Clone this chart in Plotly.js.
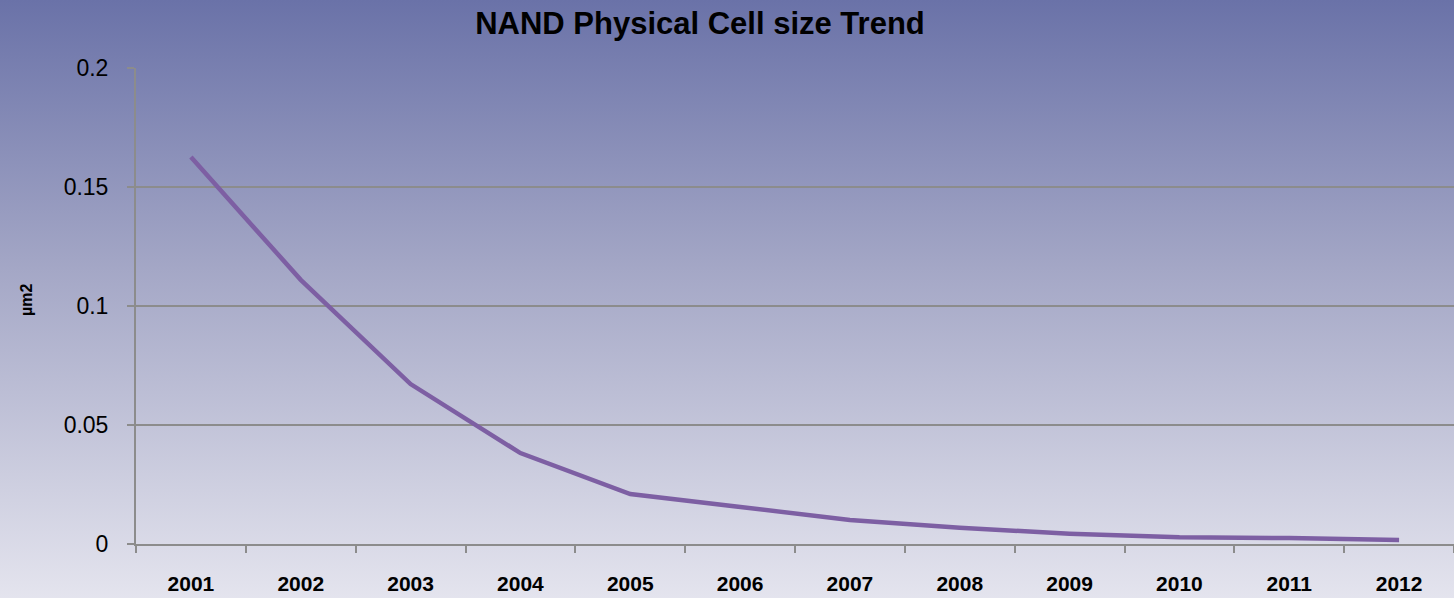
<!DOCTYPE html>
<html>
<head>
<meta charset="utf-8">
<script src="https://cdn.plot.ly/plotly-3.0.1.min.js"></script>
<style>
  html, body { margin: 0; padding: 0; }
  #chart {
    width: 1454px; height: 598px;
    background: linear-gradient(to bottom, #6a72a8 0%, #a4a7c6 45%, #e4e4ee 100%);
  }
</style>
</head>
<body>
<div id="chart"></div>
<script>
const years = ["2001","2002","2003","2004","2005","2006","2007","2008","2009","2010","2011","2012"];
const cellSize = [0.1626, 0.111, 0.0672, 0.0382, 0.021, 0.0155, 0.0101, 0.0068, 0.0043, 0.0028, 0.0025, 0.0017];
const yTicks = [0, 0.05, 0.1, 0.15, 0.2];
const yTickText = ["0", "0.05", "0.1", "0.15", "0.2"];

const trace = {
  x: years,
  y: cellSize,
  type: "scatter",
  mode: "lines",
  line: { color: "#7d5fa3", width: 4.5 },
  hoverinfo: "x+y"
};

const layout = {
  width: 1454, height: 598,
  paper_bgcolor: "rgba(0,0,0,0)",
  plot_bgcolor: "rgba(0,0,0,0)",
  margin: { l: 136, r: 0, t: 68, b: 54 },
  showlegend: false,
  title: {
    text: "<b>NAND Physical Cell size Trend</b>",
    font: { family: "Liberation Sans, Arial, sans-serif", size: 31, color: "#000" },
    xref: "container", x: 0.4814, xanchor: "center",
    yref: "container", y: 1 - 23/598, yanchor: "middle"
  },
  xaxis: {
    type: "category",
    range: [-0.5, 11.5],
    showgrid: false,
    zeroline: false,
    showline: true, linecolor: "#8c8c8c", linewidth: 2,
    ticks: "outside", tickson: "boundaries", ticklen: 7, tickwidth: 2, tickcolor: "#8c8c8c",
    tickfont: { family: "Liberation Sans, Arial, sans-serif", size: 21, color: "#000", weight: "bold" },
    ticklabelstandoff: 20
  },
  yaxis: {
    range: [0, 0.2],
    tickvals: yTicks,
    ticktext: yTickText,
    showgrid: true, gridcolor: "#8c8c8c", gridwidth: 2,
    zeroline: false,
    showline: true, linecolor: "#8c8c8c", linewidth: 2,
    ticks: "outside", ticklen: 7, tickwidth: 2, tickcolor: "#8c8c8c",
    tickfont: { family: "Liberation Sans, Arial, sans-serif", size: 23, color: "#000" },
    ticklabelstandoff: 14
  },
  annotations: [{
    text: "<b>µm2</b>",
    textangle: -90,
    xref: "paper", yref: "paper",
    x: (26 - 136) / 1318, y: (544 - 300) / 476,
    xanchor: "center", yanchor: "middle",
    showarrow: false,
    font: { family: "Liberation Sans, Arial, sans-serif", size: 16, color: "#000" }
  }]
};

Plotly.newPlot("chart", [trace], layout, { displayModeBar: false });
</script>
</body>
</html>
